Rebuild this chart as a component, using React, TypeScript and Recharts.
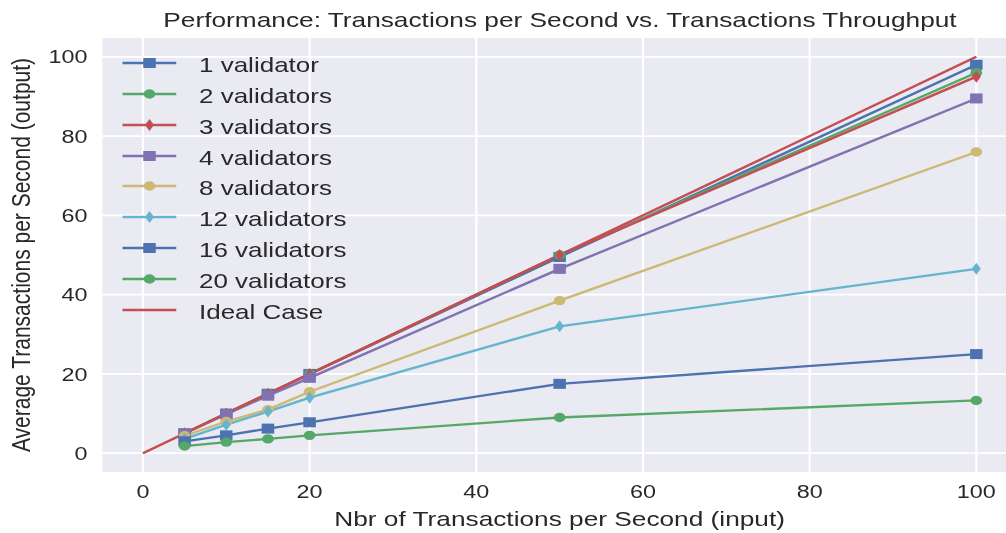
import React from 'react';
import { LineChart, Line, XAxis, YAxis, CartesianGrid, Legend, Label } from 'recharts';

// input rates (tx/s)
const inputRates = [5, 10, 15, 20, 50, 100];
const idealRates = [0, 100];

// measured output (tx/s), one array per validator count
const oneValidator = [5, 10, 15, 20, 49.5, 98];
const twoValidators = [5, 10, 15, 20, 50, 96];
const threeValidators = [5, 10, 15, 20, 50, 95];
const fourValidators = [5, 9.8, 14.5, 19, 46.5, 89.5];
const eightValidators = [4.4, 8, 11, 15.5, 38.5, 76];
const twelveValidators = [3.6, 7.2, 10.5, 14, 32, 46.5];
const sixteenValidators = [3, 4.5, 6.2, 7.8, 17.5, 25];
const twentyValidators = [1.8, 2.8, 3.6, 4.5, 9, 13.3];
const idealCase = [0, 100];

const xTicks = [0, 20, 40, 60, 80, 100];
const yTicks = [0, 20, 40, 60, 80, 100];

// the reference image is stretched horizontally, so draw narrow and scale x
const STRETCH = 1.25;
const TEXT = '#282828';
const FONT = '"Liberation Sans", Arial, Helvetica, sans-serif';

type Shape = 'square' | 'circle' | 'diamond' | 'none';

const series: { name: string; color: string; shape: Shape; xs: number[]; ys: number[] }[] = [
  { name: '1 validator', color: '#4C72B0', shape: 'square', xs: inputRates, ys: oneValidator },
  { name: '2 validators', color: '#55A868', shape: 'circle', xs: inputRates, ys: twoValidators },
  { name: '3 validators', color: '#C44E52', shape: 'diamond', xs: inputRates, ys: threeValidators },
  { name: '4 validators', color: '#8172B2', shape: 'square', xs: inputRates, ys: fourValidators },
  { name: '8 validators', color: '#CCB974', shape: 'circle', xs: inputRates, ys: eightValidators },
  { name: '12 validators', color: '#64B5CD', shape: 'diamond', xs: inputRates, ys: twelveValidators },
  { name: '16 validators', color: '#4C72B0', shape: 'square', xs: inputRates, ys: sixteenValidators },
  { name: '20 validators', color: '#55A868', shape: 'circle', xs: inputRates, ys: twentyValidators },
  { name: 'Ideal Case', color: '#C44E52', shape: 'none', xs: idealRates, ys: idealCase },
];

function marker(shape: Shape, color: string, cx: number, cy: number, key?: any) {
  if (shape === 'square') {
    return <rect key={key} x={cx - 5} y={cy - 5} width={10} height={10} fill={color} />;
  }
  if (shape === 'circle') {
    return <circle key={key} cx={cx} cy={cy} r={4.7} fill={color} />;
  }
  if (shape === 'diamond') {
    return (
      <polygon
        key={key}
        points={`${cx},${cy - 6} ${cx + 3.6},${cy} ${cx},${cy + 6} ${cx - 3.6},${cy}`}
        fill={color}
      />
    );
  }
  return <g key={key} />;
}

const makeDot = (shape: Shape, color: string) => (props: any) => {
  const { cx, cy, index } = props;
  if (cx == null || cy == null) return <g key={index} />;
  return marker(shape, color, cx, cy, index);
};

function LegendBox() {
  return (
    <div style={{ display: 'flex', flexDirection: 'column', fontFamily: FONT }}>
      {series.map(s => (
        <div key={s.name} style={{ display: 'flex', alignItems: 'center', height: 30.8 }}>
          <svg width={44} height={14} style={{ overflow: 'visible' }}>
            <line x1={0} x2={43} y1={7} y2={7} stroke={s.color} strokeWidth={2.3} />
            {marker(s.shape, s.color, 21.6, 7)}
          </svg>
          <span
            style={{
              marginLeft: 16.8,
              fontSize: 20.8,
              color: TEXT,
              position: 'relative',
              top: 2,
              whiteSpace: 'nowrap',
            }}
          >
            {s.name}
          </span>
        </div>
      ))}
    </div>
  );
}

const YTitle = (props: any) => {
  const vb = props.viewBox ?? { x: 0, y: 37, width: 81, height: 436 };
  const x = 24;
  const y = vb.y + vb.height / 2;
  return (
    <text
      x={x}
      y={y}
      transform={`rotate(-90 ${x} ${y})`}
      textAnchor="middle"
      fontSize={21}
      fill={TEXT}
      fontFamily={FONT}
    >
      Average Transactions per Second (output)
    </text>
  );
};

const XTitle = (props: any) => {
  const vb = props.viewBox ?? { x: 81, y: 473, width: 733, height: 60 };
  return (
    <text
      x={vb.x + vb.width / 2}
      y={vb.y + 53}
      textAnchor="middle"
      fontSize={21}
      fill={TEXT}
      fontFamily={FONT}
    >
      Nbr of Transactions per Second (input)
    </text>
  );
};

export default function App() {
  const W = 830;
  return (
    <div
      style={{
        position: 'absolute',
        left: 0,
        top: 0,
        width: 1006,
        height: 533,
        overflow: 'hidden',
        background: '#fff',
        fontFamily: FONT,
      }}
    >
      <div
        style={{
          position: 'relative',
          width: W,
          height: 533,
          transform: `scaleX(${STRETCH})`,
          transformOrigin: '0 0',
        }}
      >
        <div
          style={{
            position: 'absolute',
            left: 0,
            top: 8.9,
            width: 896,
            textAlign: 'center',
            fontSize: 21,
            lineHeight: '21px',
            color: TEXT,
            whiteSpace: 'nowrap',
            zIndex: 2,
          }}
        >
          Performance: Transactions per Second vs. Transactions Throughput
        </div>
        <LineChart width={W} height={533} margin={{ top: 37, right: 15.6, bottom: 0, left: 0 }}>
          <CartesianGrid fill="#EAEAF2" stroke="#ffffff" strokeWidth={1.8} />
          <XAxis
            type="number"
            dataKey="x"
            domain={[-5, 105]}
            ticks={xTicks}
            interval={0}
            allowDataOverflow
            axisLine={false}
            tickLine={false}
            tickSize={0}
            tickMargin={11.5}
            height={60}
            tick={{ fill: TEXT, fontSize: 18.7, fontFamily: FONT }}
          >
            <Label content={<XTitle />} />
          </XAxis>
          <YAxis
            type="number"
            domain={[-5, 105]}
            ticks={yTicks}
            interval={0}
            allowDataOverflow
            axisLine={false}
            tickLine={false}
            tickSize={0}
            tickMargin={11}
            width={81}
            tick={{ fill: TEXT, fontSize: 18.7, fontFamily: FONT }}
          >
            <Label content={<YTitle />} />
          </YAxis>
          <Legend
            content={<LegendBox />}
            layout="vertical"
            align="center"
            verticalAlign="middle"
            wrapperStyle={{ left: 98.4, top: 47.9, width: 'auto', height: 'auto' }}
          />
          {series.map(s => (
            <Line
              key={s.name}
              name={s.name}
              data={s.xs.map((x, i) => ({ x, y: s.ys[i] }))}
              dataKey="y"
              type="linear"
              stroke={s.color}
              strokeWidth={2.3}
              dot={s.shape === 'none' ? false : makeDot(s.shape, s.color)}
              activeDot={false}
              isAnimationActive={false}
            />
          ))}
        </LineChart>
      </div>
    </div>
  );
}
